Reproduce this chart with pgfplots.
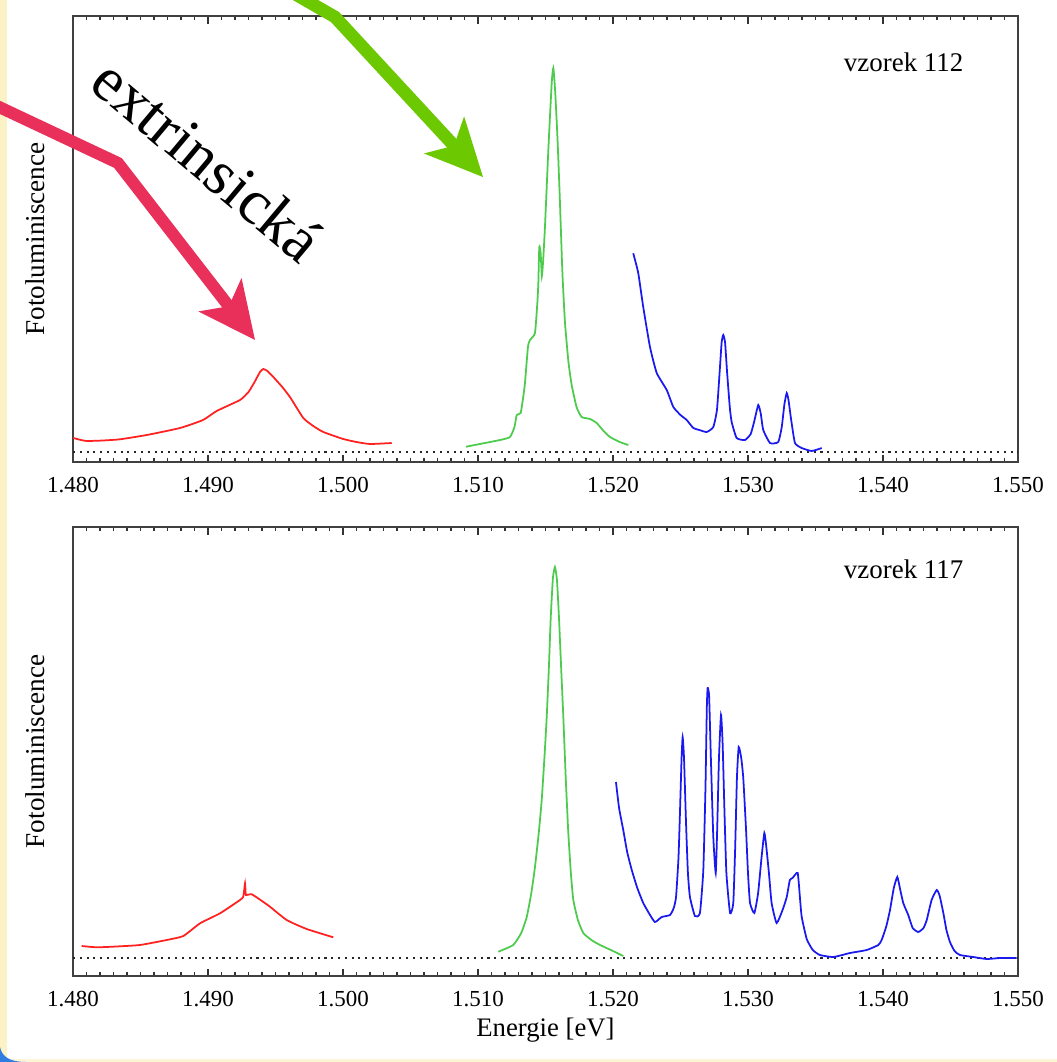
\documentclass[border=0pt]{standalone}
\usepackage{fontspec}
\setmainfont{Liberation Serif}
\usepackage{pgfplots}
\pgfplotsset{compat=1.18}
\usetikzlibrary{arrows.meta}

\definecolor{arrred}{HTML}{E8305A}
\definecolor{arrgreen}{HTML}{6CC800}
\definecolor{specred}{HTML}{FF2020}
\definecolor{specgreen}{HTML}{4CCB4C}
\definecolor{specblue}{HTML}{1A1AF0}
\definecolor{slideyellow}{HTML}{FBF2C6}
\definecolor{slideblue}{HTML}{2F7DE1}

\pgfplotsset{
  specaxis/.style={
    scale only axis, width=14.175cm,
    xmin=1.48, xmax=1.55,
    xtick={1.48,1.49,1.50,1.51,1.52,1.53,1.54,1.55},
    minor x tick num=9,
    ytick=\empty,
    major tick length=3.2pt, minor tick length=1.8pt,
    tick style={black!80, line width=0.5pt},
    axis line style={black!75, line width=0.7pt},
    xticklabel style={font=\fontsize{9.8}{11}\selectfont, yshift=-3.0pt,
      /pgf/number format/.cd, fixed, fixed zerofill, precision=3, assume math mode=true},
    ylabel={Fotoluminiscence},
    ylabel style={font=\fontsize{11.6}{13}\selectfont, at={(axis description cs:-0.0402,0.5)}, anchor=center},
  },
  spec/.style={line width=0.75pt, smooth, tension=0.3},
  base/.style={black!85, line width=0.7pt, dash pattern=on 0.9pt off 2.0pt},
}

\begin{document}
\begin{tikzpicture}
\path[use as bounding box] (0,0) rectangle (15.855cm,-15.93cm);
\fill[white] (0,0) rectangle (15.855cm,-15.93cm);

\begin{scope}[x=0.015cm,y=-0.015cm]
  \fill[slideyellow] (0,0) rectangle (7,1062);
  \fill[slideyellow!70] (0,1059.5) rectangle (1057,1062);
  \fill[slideblue] (0,1047) .. controls (2,1057) and (10,1062) .. (26,1062) -- (0,1062) -- cycle;
\end{scope}

% top panel
\begin{axis}[specaxis, at={(1.095cm,-0.24cm)}, anchor=north west,
  height=6.69cm, ymin=-10, ymax=436]
\addplot[base] coordinates {(1.48,0) (1.55,0)};
\addplot[spec, specred] coordinates {
(1.48002,14) (1.48060,12) (1.48101,11) (1.48220,11.5) (1.48348,12.7) (1.48546,17) (1.48793,24) (1.48963,32) (1.49064,41)
(1.49237,52) (1.49300,60) (1.49345,70) (1.49385,80) (1.49410,83) (1.49440,81) (1.49484,75) (1.49550,65) (1.49607,55) (1.49706,34)
(1.49780,26) (1.49854,20) (1.50002,13) (1.50100,10) (1.50200,8) (1.50361,9)};
\addplot[spec, specgreen] coordinates {
(1.50911,5.3) (1.51163,12) (1.51237,15) (1.51270,25) (1.51287,37) (1.51316,39) (1.51335,55) (1.51348,69) (1.51370,105) (1.51385,112) (1.51422,119)
(1.51440,150) (1.51447,169) (1.51454,205) (1.51464,199) (1.51473,176) (1.51482,190) (1.51496,225) (1.51521,302) (1.51546,369) (1.51558,384)
(1.51572,360) (1.51590,310) (1.51607,250) (1.51625,180) (1.51644,130) (1.51670,90) (1.51694,67) (1.51730,45) (1.51768,35) (1.51830,33) (1.51879,29) (1.51930,21) (1.51978,15) (1.52050,10) (1.52113,7)};
\addplot[spec, specblue] coordinates {
(1.52150,198.7) (1.52187,179) (1.52224,145) (1.52274,105) (1.52324,79) (1.52398,62) (1.52447,45) (1.52500,37) (1.52546,32)
(1.52595,24) (1.52640,22) (1.52694,20) (1.52743,25) (1.52770,42) (1.52790,80) (1.52805,110) (1.52817,117) (1.52830,110) (1.52845,80) (1.52865,45)
(1.52879,30) (1.52916,14) (1.52978,12) (1.53020,18) (1.53045,30) (1.53076,47) (1.53095,38) (1.53113,22) (1.53163,9) (1.53224,10)
(1.53250,25) (1.53270,48) (1.53287,59) (1.53300,52) (1.53320,32) (1.53348,9) (1.53398,4) (1.53472,1) (1.53546,4)};
\node[font=\fontsize{11.5}{13}\selectfont] at (axis description cs:0.879,0.897) {vzorek 112};
\end{axis}

% bottom panel
\begin{axis}[specaxis, at={(1.095cm,-7.905cm)}, anchor=north west,
  height=6.735cm, ymin=-18, ymax=431,
  xlabel={Energie [eV]},
  xlabel style={font=\fontsize{11.4}{13}\selectfont, yshift=2pt}]
\addplot[base] coordinates {(1.48,0) (1.55,0)};
\addplot[spec, specred] coordinates {
(1.48064,12) (1.48176,10.7) (1.48320,11.5) (1.48496,13) (1.48694,18) (1.48817,22) (1.48941,34.7) (1.49089,44.7)
(1.49237,58) (1.49261,61.3) (1.49270,70) (1.49274,74.7) (1.49278,68) (1.49281,63) (1.49324,63.7) (1.49400,57) (1.49459,51.3) (1.49583,38)
(1.49731,29) (1.49928,20.7)};
\addplot[spec, specgreen] coordinates {
(1.51150,6.3) (1.51261,13) (1.51320,25) (1.51361,41) (1.51395,65) (1.51422,91) (1.51450,125) (1.51472,158) (1.51492,200) (1.51509,241) (1.51525,290) (1.51539,341) (1.51555,380) (1.51570,391)
(1.51585,378) (1.51600,340) (1.51616,290) (1.51632,241) (1.51650,180) (1.51669,125) (1.51688,85) (1.51706,58) (1.51740,38) (1.51780,25) (1.51840,18) (1.51904,13) (1.52000,7) (1.52076,2)};
\addplot[spec, specblue] coordinates {
(1.52022,176) (1.52045,150) (1.52076,128) (1.52105,106) (1.52139,88) (1.52180,70) (1.52224,55) (1.52270,44) (1.52311,36) (1.52361,41) (1.52422,43) (1.52450,50) (1.52467,61)
(1.52485,100) (1.52496,145) (1.52508,200) (1.52516,221) (1.52526,200) (1.52541,135) (1.52555,85) (1.52570,61) (1.52607,42) (1.52644,45) (1.52669,88) (1.52685,170)
(1.52695,250) (1.52701,270) (1.52712,262) (1.52725,200) (1.52743,121) (1.52761,85) (1.52772,130) (1.52785,200) (1.52800,243) (1.52812,215) (1.52825,150) (1.52840,85)
(1.52867,45) (1.52891,55) (1.52905,110) (1.52918,180) (1.52931,211) (1.52950,200) (1.52965,180) (1.52985,130) (1.53000,85) (1.53015,55) (1.53047,45)
(1.53075,65) (1.53100,100) (1.53121,125) (1.53135,112) (1.53155,85) (1.53175,55) (1.53212,35) (1.53256,48) (1.53287,61) (1.53310,78) (1.53330,80)
(1.53368,85) (1.53385,60) (1.53398,41) (1.53435,19) (1.53480,8) (1.53533,3) (1.53632,1) (1.53756,5) (1.53879,8) (1.53965,13)
(1.53990,18) (1.54025,32) (1.54052,48) (1.54080,70) (1.54106,81) (1.54125,70) (1.54150,55) (1.54187,43) (1.54220,30) (1.54261,26) (1.54300,30) (1.54324,38) (1.54360,58) (1.54398,68)
(1.54420,62) (1.54447,45) (1.54470,28) (1.54496,16) (1.54530,7) (1.54570,3) (1.54669,1) (1.54768,-1) (1.54867,0) (1.54990,0)};
\node[font=\fontsize{11.5}{13}\selectfont] at (axis description cs:0.879,0.905) {vzorek 117};
\end{axis}

% arrows and text
\begin{scope}
\clip (0,0) rectangle (15.855cm,-15.93cm);
\begin{scope}[x=0.015cm,y=-0.015cm]
  \draw[arrred, line width=0.18cm, line join=miter,
    -{Stealth[length=0.86cm, width=0.82cm, inset=0.22cm, line width=0pt]}]
    (-20,98) -- (118,163) -- (255,340);
  \draw[arrgreen, line width=0.19cm, line join=miter,
    -{Stealth[length=0.86cm, width=0.82cm, inset=0.22cm, line width=0pt]}]
    (262,-25) -- (335,17) -- (483,177);
  \node[rotate=-40, font=\fontsize{27}{30}\selectfont] at (208,160) {extrinsická};
\end{scope}
\end{scope}
\end{tikzpicture}
\end{document}
